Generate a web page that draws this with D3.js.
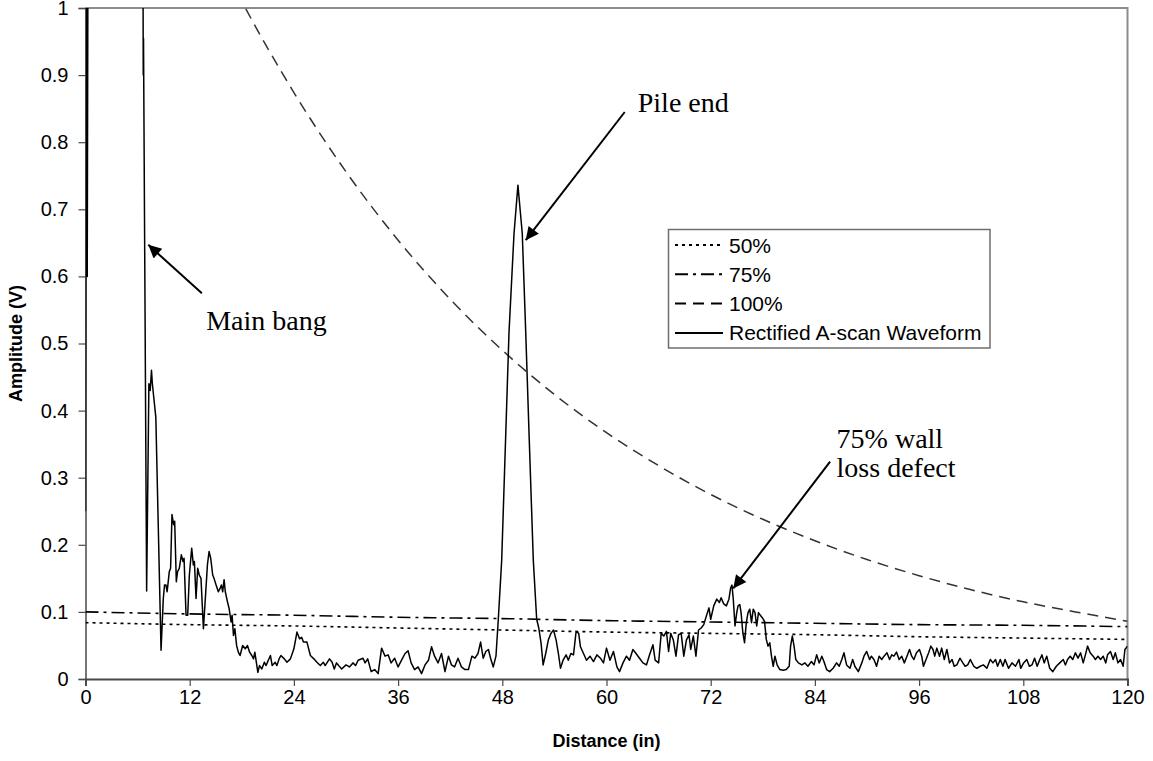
<!DOCTYPE html>
<html>
<head>
<meta charset="utf-8">
<script src="https://cdnjs.cloudflare.com/ajax/libs/d3/7.8.5/d3.min.js"></script>
<style>
  body { margin: 0; background: #fff; }
  svg { display: block; }
</style>
</head>
<body>
<div id="chart"></div>
<script>
// tick labels
var xTicks = [0, 12, 24, 36, 48, 60, 72, 84, 96, 108, 120];
var yTicks = [0, 0.1, 0.2, 0.3, 0.4, 0.5, 0.6, 0.7, 0.8, 0.9, 1];

// threshold curves (distance in, amplitude V)
var thrX = [0, 12, 24, 36, 48, 60, 72, 84, 96, 108, 120];
var thr50 = [0.084, 0.081, 0.079, 0.076, 0.073, 0.070, 0.068, 0.066, 0.063, 0.061, 0.059];
var thr75 = [0.100, 0.097, 0.095, 0.092, 0.090, 0.087, 0.085, 0.083, 0.081, 0.080, 0.078];
var dacX = [12, 18, 24, 30, 36, 42, 48, 54, 60, 66, 72, 78, 84, 90, 96, 102, 108, 114, 120];
var dac100 = [1.167, 1.010, 0.874, 0.756, 0.654, 0.566, 0.490, 0.424, 0.367, 0.318, 0.275,
              0.238, 0.206, 0.178, 0.154, 0.133, 0.115, 0.100, 0.086];

// rectified A-scan waveform
var waveX = [0, 0.1, 0.2, 0.32, 6.6, 6.65, 6.68, 7.04, 7.3, 7.45, 7.6, 7.7, 8.1, 8.7, 8.96, 9.1, 9.27, 9.4, 9.65, 9.8,
  9.96, 10.15, 10.27, 10.46, 10.6, 10.8, 11.04, 11.23, 11.35, 11.58, 11.77, 11.96, 12.23, 12.42, 12.54, 12.73, 12.92, 13.1, 13.3, 13.58,
  13.85, 14.04, 14.23, 14.42, 14.65, 14.8, 15.04, 15.3, 15.5, 15.65, 15.8, 15.96, 16.1, 16.35, 16.54, 16.77, 16.88, 17.04, 17.2, 17.4,
  17.6, 17.8, 18.1, 18.4, 18.65, 18.9, 19.15, 19.35, 19.5, 19.85, 20.04, 20.3, 20.6, 20.8, 21.05, 21.3, 21.5, 21.85, 22.04, 22.3,
  22.5, 22.9, 23.2, 23.6, 24.0, 24.35, 24.65, 24.9, 25.1, 25.5, 25.9, 26.3, 26.65, 27.04, 27.4, 27.6, 28.1, 28.4, 28.65, 28.9,
  29.15, 29.5, 30.0, 30.4, 30.8, 31.1, 31.4, 31.96, 32.2, 32.5, 32.9, 33.3, 33.7, 34.1, 34.5, 34.85, 35.2, 35.6, 36.0, 36.4,
  36.8, 37.15, 37.5, 37.9, 38.3, 38.7, 39.1, 39.5, 39.85, 40.2, 40.6, 41.0, 41.4, 41.8, 42.15, 42.5, 42.9, 43.3, 43.7, 44.1,
  44.5, 44.85, 45.2, 45.5, 45.8, 46.1, 46.4, 46.65, 46.96, 47.27, 47.54, 47.93, 48.4, 48.77, 49.35, 49.8, 50.3, 50.7, 51.08, 51.57,
  51.96, 52.2, 52.46, 52.7, 53.0, 53.3, 53.6, 53.9, 54.2, 54.46, 54.7, 55.0, 55.35, 55.6, 55.9, 56.2, 56.5, 56.8, 57.0, 57.35,
  57.7, 58.1, 58.5, 58.9, 59.3, 59.65, 60.0, 60.4, 60.8, 61.2, 61.5, 61.9, 62.3, 62.65, 63.04, 63.4, 63.8, 64.2, 64.6, 64.96,
  65.35, 65.6, 66.0, 66.3, 66.6, 66.9, 67.15, 67.4, 67.7, 68.0, 68.3, 68.6, 68.9, 69.2, 69.5, 69.7, 70.0, 70.3, 70.6, 70.9,
  71.2, 71.5, 71.8, 72.0, 72.35, 72.7, 73.0, 73.2, 73.5, 73.8, 74.1, 74.3, 74.45, 74.6, 74.8, 75.0, 75.15, 75.35, 75.5, 75.7,
  75.9, 76.1, 76.3, 76.5, 76.7, 76.9, 77.1, 77.3, 77.5, 77.65, 77.96, 78.2, 78.4, 78.6, 78.8, 79.0, 79.2, 79.4, 79.65, 79.96,
  80.35, 80.7, 81.04, 81.2, 81.4, 81.6, 81.8, 82.1, 82.5, 82.85, 83.2, 83.6, 83.9, 84.2, 84.5, 84.8, 85.04, 85.35, 85.7, 86.1,
  86.5, 86.8, 87.1, 87.35, 87.65, 88.04, 88.35, 88.6, 89.0, 89.4, 89.65, 89.96, 90.3, 90.5, 90.8, 91.1, 91.4, 91.7, 91.96, 92.3,
  92.6, 92.85, 93.1, 93.4, 93.7, 94.0, 94.3, 94.6, 94.9, 95.15, 95.4, 95.7, 96.04, 96.3, 96.5, 96.8, 97.1, 97.35, 97.6, 97.8,
  98.04, 98.35, 98.6, 98.9, 99.2, 99.5, 99.8, 100.04, 100.35, 100.7, 101.04, 101.3, 101.6, 101.9, 102.3, 102.65, 103.04, 103.4, 103.8, 104.2,
  104.5, 104.8, 105.04, 105.35, 105.65, 105.9, 106.3, 106.7, 107.1, 107.5, 107.7, 108.04, 108.4, 108.7, 109.0, 109.3, 109.6, 109.9, 110.15, 110.4,
  110.7, 111.04, 111.4, 111.8, 112.2, 112.6, 112.85, 113.1, 113.4, 113.7, 114.0, 114.3, 114.6, 114.9, 115.15, 115.4, 115.7, 116.04, 116.3, 116.6,
  116.9, 117.2, 117.5, 117.7, 118.04, 118.35, 118.6, 118.9, 119.2, 119.5, 119.7, 120.0];
var waveY = [0.25, 1.3, 0.6, 1.3, 1.2, 0.9, 0.955, 0.131, 0.44, 0.43, 0.46, 0.44, 0.39, 0.043, 0.12, 0.14, 0.14, 0.13, 0.16, 0.165,
  0.245, 0.23, 0.235, 0.145, 0.16, 0.165, 0.185, 0.175, 0.18, 0.095, 0.095, 0.155, 0.195, 0.17, 0.175, 0.12, 0.165, 0.155, 0.15, 0.075,
  0.13, 0.17, 0.19, 0.18, 0.155, 0.15, 0.14, 0.13, 0.135, 0.14, 0.13, 0.148, 0.13, 0.115, 0.105, 0.085, 0.095, 0.065, 0.075, 0.05,
  0.04, 0.035, 0.05, 0.045, 0.05, 0.04, 0.035, 0.03, 0.04, 0.01, 0.02, 0.015, 0.025, 0.02, 0.028, 0.035, 0.02, 0.025, 0.02, 0.03,
  0.035, 0.03, 0.025, 0.03, 0.045, 0.07, 0.06, 0.062, 0.055, 0.055, 0.035, 0.03, 0.025, 0.02, 0.025, 0.02, 0.03, 0.025, 0.015, 0.024,
  0.02, 0.015, 0.021, 0.018, 0.024, 0.02, 0.028, 0.031, 0.024, 0.03, 0.011, 0.014, 0.008, 0.046, 0.034, 0.036, 0.024, 0.031, 0.018, 0.028,
  0.038, 0.042, 0.024, 0.014, 0.018, 0.008, 0.021, 0.028, 0.048, 0.034, 0.024, 0.038, 0.011, 0.034, 0.021, 0.018, 0.031, 0.018, 0.014, 0.014,
  0.034, 0.031, 0.038, 0.055, 0.031, 0.041, 0.044, 0.031, 0.018, 0.034, 0.089, 0.177, 0.366, 0.516, 0.664, 0.736, 0.664, 0.516, 0.366, 0.177,
  0.089, 0.076, 0.054, 0.021, 0.038, 0.058, 0.068, 0.073, 0.058, 0.038, 0.016, 0.028, 0.036, 0.028, 0.038, 0.036, 0.071, 0.068, 0.048, 0.038,
  0.028, 0.034, 0.026, 0.036, 0.031, 0.024, 0.046, 0.028, 0.041, 0.018, 0.011, 0.024, 0.034, 0.028, 0.044, 0.038, 0.031, 0.024, 0.021, 0.036,
  0.051, 0.028, 0.024, 0.068, 0.064, 0.071, 0.041, 0.068, 0.058, 0.034, 0.066, 0.068, 0.034, 0.058, 0.066, 0.044, 0.064, 0.034, 0.073, 0.076,
  0.081, 0.094, 0.106, 0.089, 0.109, 0.119, 0.114, 0.121, 0.112, 0.109, 0.119, 0.136, 0.14, 0.119, 0.079, 0.099, 0.109, 0.111, 0.099, 0.069,
  0.054, 0.084, 0.099, 0.104, 0.084, 0.104, 0.099, 0.079, 0.099, 0.096, 0.091, 0.086, 0.059, 0.049, 0.054, 0.034, 0.019, 0.034, 0.021, 0.014,
  0.013, 0.014, 0.019, 0.049, 0.064, 0.049, 0.029, 0.024, 0.021, 0.024, 0.019, 0.026, 0.021, 0.036, 0.024, 0.034, 0.026, 0.014, 0.011, 0.016,
  0.024, 0.019, 0.029, 0.039, 0.021, 0.016, 0.029, 0.019, 0.011, 0.024, 0.034, 0.041, 0.029, 0.034, 0.029, 0.019, 0.034, 0.029, 0.034, 0.039,
  0.029, 0.036, 0.034, 0.040, 0.029, 0.034, 0.024, 0.034, 0.044, 0.034, 0.029, 0.039, 0.044, 0.034, 0.019, 0.029, 0.039, 0.049, 0.044, 0.034,
  0.046, 0.034, 0.046, 0.029, 0.044, 0.024, 0.029, 0.019, 0.021, 0.031, 0.024, 0.019, 0.021, 0.029, 0.019, 0.016, 0.019, 0.021, 0.016, 0.029,
  0.024, 0.029, 0.019, 0.029, 0.019, 0.029, 0.016, 0.024, 0.019, 0.029, 0.016, 0.024, 0.029, 0.019, 0.021, 0.031, 0.019, 0.029, 0.036, 0.024,
  0.034, 0.016, 0.011, 0.019, 0.024, 0.029, 0.021, 0.029, 0.034, 0.029, 0.039, 0.031, 0.039, 0.024, 0.036, 0.049, 0.039, 0.034, 0.029, 0.034,
  0.029, 0.034, 0.024, 0.036, 0.041, 0.029, 0.039, 0.024, 0.029, 0.019, 0.044, 0.049];

var legendNames = ["50%", "75%", "100%", "Rectified A-scan Waveform"];

var width = 1153, height = 761;
var plot = { left: 85.5, right: 1127.5, top: 8, bottom: 679 };

var svg = d3.select("#chart").append("svg")
    .attr("width", width)
    .attr("height", height);

var x = d3.scaleLinear().domain([0, 120]).range([plot.left, plot.right]);
var y = d3.scaleLinear().domain([0, 1]).range([plot.bottom, plot.top]);

// clip lines to the plot area, like the spreadsheet does
svg.append("clipPath").attr("id", "plotclip")
  .append("rect")
    .attr("x", plot.left).attr("y", plot.top)
    .attr("width", plot.right - plot.left)
    .attr("height", plot.bottom - plot.top);

// top and right border of the plot area
svg.append("path")
    .attr("d", "M" + plot.left + "," + plot.top + "H" + plot.right + "V" + plot.bottom)
    .attr("fill", "none")
    .attr("stroke", "#8c8c8c")
    .attr("stroke-width", 2);

// y axis
var yAxis = svg.append("g")
    .attr("transform", "translate(" + plot.left + ",0)")
    .call(d3.axisLeft(y).tickValues(yTicks).tickSize(7).tickPadding(10)
      .tickFormat(function(d) { return d3.format("~g")(d); }));
yAxis.select(".domain").attr("stroke", "#4a4a4a").attr("stroke-width", 1.5);
yAxis.selectAll(".tick line").attr("stroke", "#4a4a4a").attr("stroke-width", 1.2);
yAxis.selectAll(".tick text")
    .attr("fill", "#000")
    .style("font", "20px 'Liberation Sans', Arial, sans-serif");

// x axis
var xAxis = svg.append("g")
    .attr("transform", "translate(0," + plot.bottom + ")")
    .call(d3.axisBottom(x).tickValues(xTicks).tickSize(7).tickPadding(4));
xAxis.select(".domain").attr("stroke", "#4a4a4a").attr("stroke-width", 2);
xAxis.selectAll(".tick line").attr("stroke", "#4a4a4a").attr("stroke-width", 1.2);
xAxis.selectAll(".tick text")
    .attr("fill", "#000")
    .style("font", "20px 'Liberation Sans', Arial, sans-serif");

// axis titles
svg.append("text")
    .attr("x", (plot.left + plot.right) / 2)
    .attr("y", 747)
    .attr("text-anchor", "middle")
    .style("font", "bold 18px 'Liberation Sans', Arial, sans-serif")
    .text("Distance (in)");

svg.append("text")
    .attr("transform", "translate(22," + ((plot.top + plot.bottom) / 2) + ") rotate(-90)")
    .attr("text-anchor", "middle")
    .style("font", "bold 18px 'Liberation Sans', Arial, sans-serif")
    .text("Amplitude (V)");

var styles = [
  { dash: "3,4", color: "#000", w: 1.6 },
  { dash: "13,5,3,5", color: "#000", w: 1.6 },
  { dash: "11,7", color: "#333", w: 1.5 },
  { dash: null, color: "#000", w: 1.5 }
];

var lines = svg.append("g").attr("clip-path", "url(#plotclip)");

function pairs(xs, ys) {
  return xs.map(function(v, i) { return [v, ys[i]]; });
}

var smooth = d3.line()
    .x(function(d) { return x(d[0]); })
    .y(function(d) { return y(d[1]); })
    .curve(d3.curveMonotoneX);
var straight = d3.line()
    .x(function(d) { return x(d[0]); })
    .y(function(d) { return y(d[1]); });

var series = [pairs(thrX, thr50), pairs(thrX, thr75), pairs(dacX, dac100), pairs(waveX, waveY)];

series.forEach(function(data, i) {
  lines.append("path")
      .attr("d", i == 3 ? straight(data) : smooth(data))
      .attr("fill", "none")
      .attr("stroke", styles[i].color)
      .attr("stroke-width", styles[i].w)
      .attr("stroke-linejoin", "round")
      .attr("stroke-dasharray", styles[i].dash);
});

// legend
var legend = svg.append("g");
legend.append("rect")
    .attr("x", 668.5).attr("y", 229.5)
    .attr("width", 321.5).attr("height", 118.5)
    .attr("fill", "#fff")
    .attr("stroke", "#6e6e6e")
    .attr("stroke-width", 1.5);

legendNames.forEach(function(name, i) {
  var cy = 245 + i * 29.3;
  legend.append("line")
      .attr("x1", 675).attr("x2", 723)
      .attr("y1", cy).attr("y2", cy)
      .attr("stroke", "#000")
      .attr("stroke-width", 2)
      .attr("stroke-dasharray", styles[i].dash);
  legend.append("text")
      .attr("x", 729).attr("y", cy)
      .attr("dy", "0.36em")
      .style("font", "21px 'Liberation Sans', Arial, sans-serif")
      .text(name);
});

// annotations, positioned in data units
svg.append("defs").append("marker")
    .attr("id", "head")
    .attr("viewBox", "0 0 10 10")
    .attr("refX", 10).attr("refY", 5)
    .attr("markerWidth", 17).attr("markerHeight", 13)
    .attr("markerUnits", "userSpaceOnUse")
    .attr("orient", "auto")
  .append("path")
    .attr("d", "M0,0L10,5L0,10z")
    .attr("fill", "#000");

var notes = [
  { lines: ["Pile end"], tx: 63.6, ty: 0.845, from: [62.1, 0.845], to: [50.7, 0.654] },
  { lines: ["Main bang"], tx: 13.9, ty: 0.52, from: [13.4, 0.575], to: [7.23, 0.647] },
  { lines: ["75% wall", "loss defect"], tx: 86.5, ty: 0.344, from: [85.75, 0.324], to: [74.6, 0.135] }
];

notes.forEach(function(n) {
  svg.append("line")
      .attr("x1", x(n.from[0])).attr("y1", y(n.from[1]))
      .attr("x2", x(n.to[0])).attr("y2", y(n.to[1]))
      .attr("stroke", "#000")
      .attr("stroke-width", 2)
      .attr("marker-end", "url(#head)");
  n.lines.forEach(function(t, j) {
    svg.append("text")
        .attr("x", x(n.tx))
        .attr("y", y(n.ty) + j * 29)
        .style("font", "28px 'Liberation Serif', 'Times New Roman', serif")
        .text(t);
  });
});
</script>
</body>
</html>
